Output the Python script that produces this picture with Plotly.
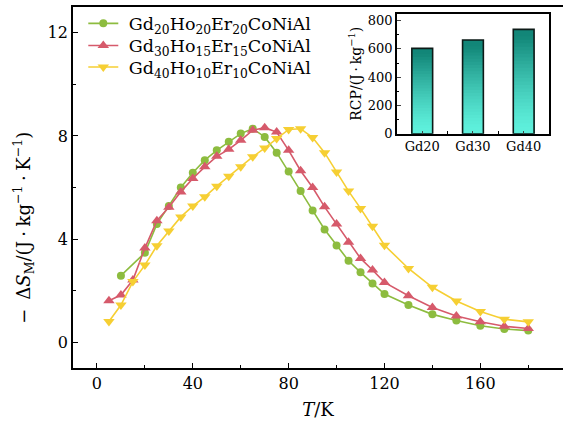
import plotly.graph_objects as go

# ---- data ----
T_g20 = [10, 20, 25, 30, 35, 40, 45, 50, 55, 60, 65, 70, 75, 80, 85, 90, 95, 100,
         105, 110, 115, 120, 130, 140, 150, 160, 170, 180]
dS_g20 = [2.58, 3.47, 4.58, 5.28, 6.00, 6.57, 7.06, 7.44, 7.77, 8.09, 8.28, 7.96, 7.35,
          6.62, 5.86, 5.11, 4.37, 3.75, 3.16, 2.71, 2.28, 1.87, 1.44, 1.08, 0.84, 0.64,
          0.51, 0.45]

T_g30 = [5, 10, 15, 20, 25, 30, 35, 40, 45, 50, 55, 60, 65, 70, 75, 80, 85, 90, 95, 100,
         105, 110, 115, 120, 130, 140, 150, 160, 170, 180]
dS_g30 = [1.61, 1.83, 2.41, 3.65, 4.71, 5.23, 5.83, 6.35, 6.80, 7.21, 7.48, 7.83, 8.22,
          8.32, 8.15, 7.44, 6.65, 6.00, 5.25, 4.58, 3.88, 3.25, 2.80, 2.32, 1.80, 1.35,
          1.02, 0.79, 0.62, 0.53]

T_g40 = [5, 10, 15, 20, 25, 30, 35, 40, 45, 50, 55, 60, 65, 70, 75, 80, 85, 90, 95, 100,
         105, 110, 115, 120, 130, 140, 150, 160, 170, 180]
dS_g40 = [0.80, 1.44, 2.35, 2.99, 3.74, 4.31, 4.86, 5.28, 5.64, 6.05, 6.44, 6.80, 7.19,
          7.53, 7.90, 8.25, 8.28, 7.94, 7.35, 6.60, 5.86, 5.19, 4.50, 3.76, 2.86, 2.13,
          1.60, 1.19, 0.89, 0.79]

names = ["Gd<sub>20</sub>Ho<sub>20</sub>Er<sub>20</sub>CoNiAl",
         "Gd<sub>30</sub>Ho<sub>15</sub>Er<sub>15</sub>CoNiAl",
         "Gd<sub>40</sub>Ho<sub>10</sub>Er<sub>10</sub>CoNiAl"]

rcp_labels = ["Gd20", "Gd30", "Gd40"]
rcp_values = [604, 663, 738]

x_ticks = [0, 40, 80, 120, 160]
y_ticks = [0, 4, 8, 12]
rcp_ticks = [0, 200, 400, 600, 800]

# ---- style ----
FONT = "DejaVu Serif"
colors = ["#8dbc3f", "#d65a6b", "#f6cf33"]
symbols = ["circle", "triangle-up", "triangle-down"]
sizes = [8, 10, 10]
legend_ids = ["legend", "legend2", "legend3"]

fig = go.Figure()
series = [(T_g20, dS_g20), (T_g30, dS_g30), (T_g40, dS_g40)]
for (t, v), n, c, s, sz, lg in zip(series, names, colors, symbols, sizes, legend_ids):
    fig.add_trace(go.Scatter(
        x=t, y=v, name="\u00a0" + n, mode="lines+markers",
        line=dict(color=c, width=1.6),
        marker=dict(symbol=s, size=sz, color=c),
        xaxis="x", yaxis="y", legend=lg))

# inset bars with vertical gradient (overlayed fractional bars)
def lerp(c1, c2, f):
    return "rgb(%d,%d,%d)" % tuple(round(a + (b - a) * f) for a, b in zip(c1, c2))

dark = (18, 134, 120)
light = (94, 240, 220)
N = 30
xcat = list(range(len(rcp_values)))
for k in range(N, 0, -1):
    frac = k / N
    f = min(1.0, max(0.0, (frac - 0.05) / 0.9)) ** 1.3
    col = lerp(light, dark, f)
    fig.add_trace(go.Bar(
        x=xcat, y=[v * frac for v in rcp_values], width=0.41,
        marker=dict(color=col, line=dict(width=0)),
        xaxis="x2", yaxis="y2", showlegend=False, hoverinfo="skip"))
fig.add_trace(go.Bar(
    x=xcat, y=rcp_values, width=0.41,
    marker=dict(color="rgba(0,0,0,0)", line=dict(color="#0d1a17", width=1.6)),
    xaxis="x2", yaxis="y2", showlegend=False))

axis_common = dict(showline=True, linecolor="black", linewidth=1.8,
                   ticks="inside", tickcolor="black", tickwidth=1.3,
                   showgrid=False, zeroline=False,
                   tickfont=dict(family=FONT, size=16, color="black"))

def legend_at(yc):
    return dict(x=0.021, y=yc, xanchor="left", yanchor="middle",
                bgcolor="rgba(0,0,0,0)", borderwidth=0,
                font=dict(family=FONT, size=17.5, color="black"))

fig.update_layout(
    width=563, height=425,
    margin=dict(l=72.5, r=0, t=6.5, b=57),
    paper_bgcolor="white", plot_bgcolor="white",
    barmode="overlay",
    font=dict(family=FONT, color="black"),
    xaxis=dict(range=[-10, 194.5], tickvals=x_ticks, ticklen=5, mirror=True,
               title=dict(text="<i>T</i>/K", font=dict(family=FONT, size=18), standoff=11),
               minor=dict(dtick=20, tick0=0, ticks="inside", ticklen=3, tickwidth=1.2,
                          tickcolor="black"),
               **axis_common),
    yaxis=dict(range=[-1, 13], tickvals=y_ticks, ticklen=5, mirror=False,
               minor=dict(dtick=2, tick0=0, ticks="inside", ticklen=3, tickwidth=1.2,
                          tickcolor="black"),
               **axis_common),
    xaxis2=dict(domain=[0.661, 0.9715], anchor="y2", range=[-0.5, 2.5],
                tickvals=xcat, ticktext=rcp_labels, showline=True, linecolor="black",
                linewidth=1.6, mirror=True, ticks="inside", ticklen=3, tickwidth=1.2,
                minor=dict(tickvals=[0.5, 1.5], ticks="inside", ticklen=3, tickwidth=1.2,
                           tickcolor="black"),
                showgrid=False, zeroline=False,
                tickfont=dict(family=FONT, size=13, color="black")),
    yaxis2=dict(domain=[0.649, 0.981], anchor="x2", range=[0, 848],
                tickvals=rcp_ticks, showline=True, linecolor="black", linewidth=1.6,
                mirror=True, ticks="inside", ticklen=4, tickwidth=1.2,
                minor=dict(dtick=100, tick0=0, ticks="inside", ticklen=2.5, tickwidth=1.1,
                           tickcolor="black"),
                showgrid=False, zeroline=False,
                title=dict(text="RCP/(J\u2009·\u2009kg<sup>−1</sup>)",
                           font=dict(family=FONT, size=14), standoff=3),
                tickfont=dict(family=FONT, size=13, color="black")),
    legend=legend_at(0.9544),
    legend2=legend_at(0.8930),
    legend3=legend_at(0.8333),
    annotations=[dict(
        text="−\u2002Δ<i>S</i><sub>M</sub>/(J\u2005·\u2005kg<sup>−1</sup>\u2005·\u2005K<sup>−1</sup>)",
        xref="paper", yref="paper", x=-0.101, y=0.387,
        xanchor="center", yanchor="middle", textangle=-90, showarrow=False,
        font=dict(family=FONT, size=18, color="black"))],
)

fig.write_html("out.html")
